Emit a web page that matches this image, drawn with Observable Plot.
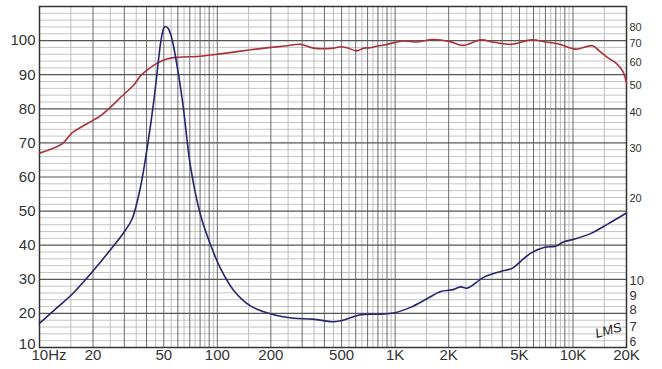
<!DOCTYPE html>
<html><head><meta charset="utf-8">
<script src="https://cdn.jsdelivr.net/npm/d3@7"></script>
<script src="https://cdn.jsdelivr.net/npm/@observablehq/plot@0.6"></script>
<style>
html,body{margin:0;padding:0;background:#fff;}
#chart svg{display:block;}
</style></head><body><div id="chart"></div>
<script>
// SPL response (dB)
const splFreq = [10, 13.4, 15.3, 20, 22, 26.7, 28.5, 33.9, 36.9, 40.4, 45.9, 52, 60, 80, 104, 154, 200, 240, 294, 348, 397, 450, 494, 537, 607, 667, 729, 795, 868, 987, 1127, 1335, 1622, 2038, 2400, 3032, 3603, 4509, 5858, 6974, 8314, 10330, 12860, 14050, 15670, 17470, 19110, 20000];
const splDb   = [67.0, 69.7, 73.0, 76.6, 77.9, 81.8, 83.3, 87.0, 89.6, 91.4, 93.4, 94.6, 95.1, 95.4, 96.1, 97.3, 98.0, 98.4, 98.9, 97.8, 97.6, 97.8, 98.2, 97.9, 97.0, 97.8, 97.9, 98.4, 98.7, 99.4, 99.9, 99.6, 100.3, 99.7, 98.6, 100.2, 99.5, 98.9, 100.2, 99.6, 99.0, 97.5, 98.5, 97.0, 95.0, 93.4, 90.9, 87.5];

// Impedance (ohm)
const impFreq = [10, 12.6, 15.3, 19.4, 25, 29.8, 33.2, 37, 40.4, 44, 46.9, 47.9, 49, 50, 51.2, 52.7, 54.5, 55.8, 58.2, 63.6, 70.7, 80.3, 91.5, 104, 124, 153.6, 208, 269, 343, 443, 494, 640, 826, 984, 1218, 1512, 1803, 2140, 2330, 2545, 3160, 3933, 4578, 5115, 5830, 6930, 7960, 8890, 10140, 12640, 15740, 20000];
const impOhm  = [7.29, 8.3, 9.25, 10.9, 13.2, 15.2, 17.0, 22, 30.4, 44.4, 63, 70, 76, 79.5, 80.5, 79.5, 76, 72, 63, 44.4, 25.9, 17.6, 13.8, 11.4, 9.5, 8.4, 7.82, 7.6, 7.55, 7.39, 7.45, 7.82, 7.86, 7.93, 8.3, 8.9, 9.43, 9.6, 9.8, 9.7, 10.6, 11.1, 11.4, 12.1, 12.9, 13.5, 13.6, 14.1, 14.4, 15.1, 16.3, 17.8];

// Axes
const xTickValues = [10, 20, 50, 100, 200, 500, 1000, 2000, 5000, 10000, 20000];
const xTickLabels = ["10Hz", "20", "50", "100", "200", "500", "1K", "2K", "5K", "10K", "20K"];
const yTickValues = [10, 20, 30, 40, 50, 60, 70, 80, 90, 100];
const ohmSmallTicks = [7, 8, 9];
const ohmSixTick = [6];
const ohmTenTick = [10];
const ohmLargeTicks = [20, 30, 40, 50, 60, 70, 80];
const gridMantissas = [1, 1.5, 2, 2.5, 3, 3.5, 4, 4.5, 5, 5.5, 6, 6.5, 7, 7.5, 8, 8.5, 9, 9.5];
const gridDecades = [10, 100, 1000, 10000];

const Y_MIN = 10, Y_MAX = 110, OHM_MIN = 6, OHM_MAX = 94.6;
const ohmToY = z => Y_MIN + (Y_MAX - Y_MIN) * Math.log10(z / OHM_MIN) / Math.log10(OHM_MAX / OHM_MIN);

const vGrid = [];
for (const d of gridDecades) for (const m of gridMantissas) {
  const f = m * d;
  if (f > 10 && f < 20000) vGrid.push({f, major: Number.isInteger(m)});
}
const hLight = d3.range(12, 110, 2).filter(v => v % 10 !== 0);
const hDark = d3.range(20, 110, 10);

const spl = splFreq.map((f, i) => ({f, v: splDb[i]}));
const imp = impFreq.map((f, i) => ({f, v: ohmToY(impOhm[i])}));

const font = "'Liberation Sans', Arial, sans-serif";

const chart = Plot.plot({
  width: 662, height: 369,
  marginLeft: 39, marginRight: 36, marginTop: 6, marginBottom: 22,
  style: {fontFamily: font, background: "#fff", color: "#333"},
  x: {type: "log", domain: [10, 20000], axis: null},
  y: {domain: [Y_MIN, Y_MAX], axis: null},
  marks: [
    Plot.ruleY(hLight, {stroke: "#c4c4c4", strokeWidth: 1}),
    Plot.ruleX(vGrid.filter(d => !d.major), {x: "f", stroke: "#bdbdbd", strokeWidth: 1}),
    Plot.ruleX(vGrid.filter(d => d.major), {x: "f", stroke: "#6a6a6a", strokeWidth: 1}),
    Plot.ruleY(hDark, {stroke: "#555", strokeWidth: 1.2}),
    Plot.frame({stroke: "#333", strokeWidth: 1.5}),
    Plot.line(spl, {x: "f", y: "v", stroke: "#a8323a", strokeWidth: 1.6, curve: "catmull-rom"}),
    Plot.line(imp, {x: "f", y: "v", stroke: "#25256e", strokeWidth: 1.6, curve: "catmull-rom"}),
    Plot.text(yTickValues.slice(1), {y: d => d, text: d => String(d), frameAnchor: "left", textAnchor: "end", dx: -4, fontSize: 15, fill: "#333"}),
    Plot.text(yTickValues.slice(0, 1), {y: d => d, text: d => String(d), frameAnchor: "left", textAnchor: "end", dx: -4, dy: -3, fontSize: 15, fill: "#333"}),
    Plot.text(xTickValues.slice(0, 1), {x: d => d, text: (d, i) => xTickLabels[i], frameAnchor: "bottom", textAnchor: "start", dx: -8, dy: 12, fontSize: 15, fill: "#333"}),
    Plot.text(xTickValues.slice(1), {x: d => d, text: (d, i) => xTickLabels[i + 1], frameAnchor: "bottom", dy: 12, fontSize: 15, fill: "#333"}),
    Plot.text(ohmSmallTicks, {y: d => ohmToY(d), text: d => String(d), frameAnchor: "right", textAnchor: "start", dx: 3, dy: -2, fontSize: 13, fill: "#333"}),
    Plot.text(ohmSixTick, {y: d => ohmToY(d), text: d => String(d), frameAnchor: "right", textAnchor: "start", dx: 3, dy: -5, fontSize: 12, fill: "#333"}),
    Plot.text(ohmTenTick, {y: d => ohmToY(d), text: d => String(d), frameAnchor: "right", textAnchor: "start", dx: 3, dy: -4, fontSize: 13, fill: "#333"}),
    Plot.text(ohmLargeTicks, {y: d => ohmToY(d), text: d => String(d), frameAnchor: "right", textAnchor: "start", dx: 3, fontSize: 11, fill: "#333"}),
    Plot.text(["LMS"], {x: 15800, y: 15, text: d => d, rotate: -15, fontStyle: "italic", fontSize: 13, fill: "#222"})
  ]
});
document.getElementById("chart").appendChild(chart);
</script></body></html>
